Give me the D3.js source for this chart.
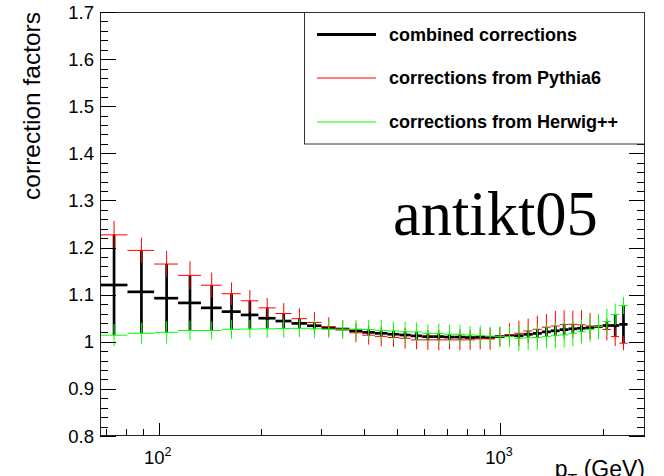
<!DOCTYPE html>
<html>
<head>
<meta charset="utf-8">
<script src="https://cdn.jsdelivr.net/npm/d3@7"></script>
<style>
  html, body { margin: 0; padding: 0; background: #fff; }
  svg { display: block; }
</style>
</head>
<body>
<svg id="chart" width="664" height="476"></svg>
<script>
// Jet pT bin edges (GeV)
const binEdges = [67, 81, 97, 114, 133, 153, 174, 196, 220, 245, 272, 300, 330, 362, 395,
  430, 468, 507, 548, 592, 638, 686, 737, 790, 846, 905, 967, 1032, 1101, 1172, 1248,
  1327, 1410, 1497, 1588, 1684, 1784, 1890, 2000, 2116, 2238, 2366];

// Correction factors from Pythia6
const pythiaValues = [1.227, 1.194, 1.165, 1.141, 1.120, 1.102, 1.087, 1.072, 1.060, 1.049,
  1.041, 1.032, 1.027, 1.019, 1.014, 1.0115, 1.009, 1.0074, 1.004, 1.004, 1.004, 1.004,
  1.004, 1.004, 1.006, 1.006, 1.011, 1.015, 1.018, 1.023, 1.0265, 1.031, 1.0335, 1.037,
  1.037, 1.036, 1.0335, 1.032, 1.026, 1.011, 0.997];
const pythiaErrors = [0.030, 0.027, 0.028, 0.030, 0.027, 0.024, 0.023, 0.021, 0.022, 0.022,
  0.022, 0.020, 0.019, 0.020, 0.020, 0.021, 0.020, 0.022, 0.020, 0.021, 0.022, 0.020,
  0.022, 0.021, 0.022, 0.023, 0.020, 0.024, 0.027, 0.026, 0.029, 0.028, 0.032, 0.030,
  0.029, 0.031, 0.028, 0.026, 0.023, 0.020, 0.015];

// Correction factors from Herwig++
const herwigValues = [1.014, 1.018, 1.020, 1.024, 1.024, 1.0265, 1.027, 1.0275, 1.028, 1.0285,
  1.0275, 1.027, 1.0265, 1.027, 1.026, 1.0245, 1.023, 1.0214, 1.021, 1.018, 1.018, 1.016,
  1.016, 1.0145, 1.013, 1.012, 1.011, 1.011, 1.0075, 1.0085, 1.009, 1.011, 1.013, 1.0145,
  1.018, 1.0214, 1.0265, 1.032, 1.043, 1.058, 1.077];
const herwigErrors = [0.024, 0.022, 0.024, 0.021, 0.019, 0.020, 0.019, 0.019, 0.020, 0.019,
  0.020, 0.019, 0.020, 0.019, 0.020, 0.022, 0.020, 0.021, 0.020, 0.019, 0.021, 0.020,
  0.020, 0.019, 0.021, 0.020, 0.022, 0.021, 0.027, 0.026, 0.027, 0.025, 0.027, 0.026,
  0.027, 0.025, 0.027, 0.026, 0.027, 0.023, 0.018];

// Combined corrections and their uncertainty (envelope of both generators)
const combinedValues = [1.1205, 1.106, 1.0925, 1.0825, 1.072, 1.064, 1.057, 1.050, 1.044, 1.039,
  1.034, 1.0295, 1.027, 1.023, 1.020, 1.018, 1.016, 1.0144, 1.0125, 1.011, 1.011, 1.010,
  1.010, 1.009, 1.0095, 1.009, 1.011, 1.013, 1.0128, 1.0158, 1.0178, 1.021, 1.0233, 1.0258,
  1.0275, 1.0287, 1.030, 1.032, 1.0345, 1.0345, 1.037];
const combinedErrors = [0.1065, 0.088, 0.0725, 0.0585, 0.048, 0.038, 0.030, 0.022, 0.016, 0.010,
  0.007, 0.0025, 0.0003, 0.004, 0.006, 0.0065, 0.007, 0.007, 0.0085, 0.007, 0.007, 0.006,
  0.006, 0.005, 0.0035, 0.003, 0.0, 0.002, 0.0053, 0.0073, 0.0088, 0.010, 0.0103, 0.0113,
  0.0095, 0.0073, 0.0035, 0.0, 0.0085, 0.0235, 0.04];

const xDomain = [67.3, 2662];
const yDomain = [0.8, 1.7];
const yMajorTicks = [0.8, 0.9, 1.0, 1.1, 1.2, 1.3, 1.4, 1.5, 1.6, 1.7];
const yTickLabels = ["0.8", "0.9", "1", "1.1", "1.2", "1.3", "1.4", "1.5", "1.6", "1.7"];
const xMinorTicks = [70, 80, 90, 200, 300, 400, 500, 600, 700, 800, 900, 2000];
const xMajorTicks = [100, 1000];
const xTickExponents = ["2", "3"];

const legendLabels = ["combined corrections", "corrections from Pythia6", "corrections from Herwig++"];
const seriesColors = ["#000000", "#ff0000", "#00ff00"];

const margin = { left: 100, right: 19, top: 12, bottom: 40 };
const W = 664, H = 476;
const pw = W - margin.left - margin.right;
const ph = H - margin.top - margin.bottom;

const svg = d3.select("#chart");
svg.append("rect").attr("width", W).attr("height", H).attr("fill", "#fff");

const x = d3.scaleLog().domain(xDomain).range([margin.left, margin.left + pw]);
const y = d3.scaleLinear().domain(yDomain).range([margin.top + ph, margin.top]);

const font = "'Liberation Sans', Arial, Helvetica, sans-serif";

svg.append("clipPath").attr("id", "frameClip")
  .append("rect").attr("x", margin.left).attr("y", margin.top).attr("width", pw).attr("height", ph);

const plot = svg.append("g").attr("clip-path", "url(#frameClip)");

function bins(values, errors) {
  return values.map((v, i) => ({
    lo: binEdges[i], hi: binEdges[i + 1],
    c: (binEdges[i] + binEdges[i + 1]) / 2,
    v, e: errors[i]
  }));
}

// Each bin: a horizontal bar across the bin width plus a vertical error bar at its centre
function drawSeries(data, color, width) {
  const g = plot.append("g").attr("stroke", color).attr("stroke-width", width).attr("fill", "none");
  g.selectAll("line.h").data(data).join("line").attr("class", "h")
    .attr("x1", d => x(d.lo)).attr("x2", d => x(d.hi))
    .attr("y1", d => y(d.v)).attr("y2", d => y(d.v));
  g.selectAll("line.v").data(data.filter(d => d.e > 0)).join("line").attr("class", "v")
    .attr("x1", d => x(d.c)).attr("x2", d => x(d.c))
    .attr("y1", d => y(d.v - d.e)).attr("y2", d => y(d.v + d.e));
}

drawSeries(bins(combinedValues, combinedErrors), seriesColors[0], 2.7);
drawSeries(bins(pythiaValues, pythiaErrors), seriesColors[1], 1);
drawSeries(bins(herwigValues, herwigErrors), seriesColors[2], 1);

// Frame
const axes = svg.append("g").attr("stroke", "#000").attr("stroke-width", 1).attr("fill", "none");
axes.append("rect").attr("x", margin.left + 0.5).attr("y", margin.top + 0.5)
  .attr("width", pw - 1).attr("height", ph - 1).attr("stroke", "#222");

// Y ticks on both sides
const yMinor = d3.range(0.8, 1.7001, 0.02).map(v => +v.toFixed(2));
yMinor.forEach(v => {
  const major = yMajorTicks.some(m => Math.abs(m - v) < 1e-6);
  const len = major ? 16 : 8;
  const yy = Math.round(y(v)) + 0.5;
  axes.append("line").attr("x1", margin.left).attr("x2", margin.left + len).attr("y1", yy).attr("y2", yy);
  axes.append("line").attr("x1", margin.left + pw).attr("x2", margin.left + pw - len).attr("y1", yy).attr("y2", yy);
});

// X ticks (bottom)
xMinorTicks.forEach(t => {
  const xx = Math.round(x(t)) + 0.5;
  axes.append("line").attr("x1", xx).attr("x2", xx).attr("y1", margin.top + ph).attr("y2", margin.top + ph - 7);
});
xMajorTicks.forEach(t => {
  const xx = Math.round(x(t)) + 0.5;
  axes.append("line").attr("x1", xx).attr("x2", xx).attr("y1", margin.top + ph).attr("y2", margin.top + ph - 13);
});

// Y tick labels
svg.append("g").selectAll("text").data(yMajorTicks).join("text")
  .attr("x", 94).attr("y", d => y(d) + 6.5)
  .attr("text-anchor", "end").attr("font-family", font).attr("font-size", 18.5).attr("fill", "#000")
  .text((d, i) => yTickLabels[i]);

// X tick labels (powers of ten)
xMajorTicks.forEach((t, i) => {
  const txt = svg.append("text").attr("x", x(t) - 1).attr("y", 464)
    .attr("text-anchor", "middle").attr("font-family", font).attr("font-size", 18.5).attr("fill", "#000");
  txt.append("tspan").text("10");
  txt.append("tspan").attr("dy", -8).attr("font-size", 12.5).text(xTickExponents[i]);
});

// Axis titles
svg.append("text")
  .attr("transform", `translate(40,${margin.top}) rotate(-90)`)
  .attr("text-anchor", "end").attr("font-family", font).attr("font-size", 24.5).attr("fill", "#000")
  .text("correction factors");

const xt = svg.append("text").attr("x", margin.left + pw).attr("y", 477)
  .attr("text-anchor", "end").attr("font-family", font).attr("font-size", 23).attr("fill", "#000");
xt.append("tspan").text("p");
xt.append("tspan").attr("font-size", 16).attr("dy", 9).text("T");
xt.append("tspan").attr("dy", -9).text(" (GeV)");

// Algorithm label
svg.append("text").attr("x", 393).attr("y", 235)
  .attr("font-family", "'Liberation Serif', 'Times New Roman', serif").attr("font-size", 62.5).attr("fill", "#000")
  .text("antikt05");

// Legend
const leg = svg.append("g");
leg.append("rect").attr("x", 304.5).attr("y", 12.5).attr("width", 340).attr("height", 131.5)
  .attr("fill", "#fff").attr("stroke", "#333").attr("stroke-width", 1);
const rowY = [34.5, 78, 122];
const lineW = [3, 1, 1];
legendLabels.forEach((lab, i) => {
  leg.append("line").attr("x1", 317).attr("x2", 376).attr("y1", rowY[i]).attr("y2", rowY[i])
    .attr("stroke", seriesColors[i]).attr("stroke-width", lineW[i]);
  leg.append("text").attr("x", 389).attr("y", rowY[i] + 6.3)
    .attr("font-family", font).attr("font-weight", "bold").attr("font-size", 18).attr("fill", "#000")
    .text(lab);
});
</script>
</body>
</html>
